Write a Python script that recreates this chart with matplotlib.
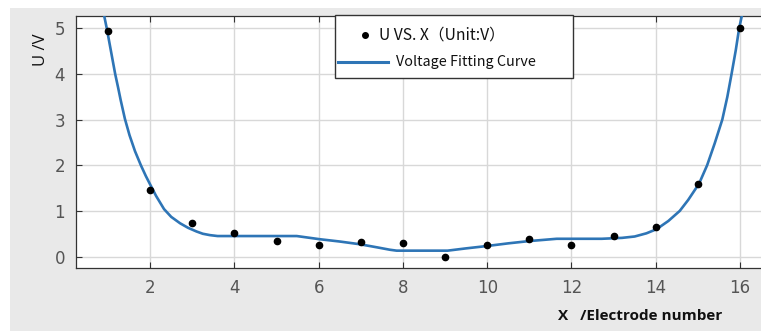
import matplotlib
matplotlib.use("Agg")
import matplotlib.pyplot as plt
from matplotlib.patches import Rectangle
from matplotlib.lines import Line2D

# measured electrode voltages
electrode = [1, 2, 3, 4, 5, 6, 7, 8, 9, 10, 11, 12, 13, 14, 15, 16]
voltage = [4.95, 1.46, 0.74, 0.51, 0.34, 0.26, 0.32, 0.29, 0.0, 0.26, 0.38, 0.25, 0.45, 0.64, 1.59, 5.01]

# fitting curve
curve_x = [0.91, 0.97, 1.07, 1.17, 1.24, 1.30, 1.40, 1.51, 1.64, 1.78, 1.90, 2.00, 2.14,
           2.33, 2.50, 2.71, 2.90, 3.10, 3.25, 3.42, 3.60, 4.00, 5.00, 5.48, 6.03, 6.50,
           6.98, 7.40, 7.69, 7.85, 9.06, 9.50, 9.98, 10.50, 11.00, 11.65, 12.72, 13.20,
           13.50, 13.78, 14.02, 14.30, 14.57, 14.77, 15.03, 15.22, 15.40, 15.58, 15.70,
           15.80, 15.90, 15.98, 16.05]
curve_y = [5.27, 5.00, 4.50, 4.00, 3.70, 3.43, 3.02, 2.66, 2.31, 2.00, 1.76, 1.58, 1.33,
           1.04, 0.87, 0.73, 0.63, 0.55, 0.50, 0.47, 0.45, 0.45, 0.45, 0.45, 0.38, 0.33,
           0.27, 0.20, 0.15, 0.13, 0.13, 0.18, 0.23, 0.29, 0.34, 0.39, 0.39, 0.41,
           0.44, 0.51, 0.60, 0.78, 1.00, 1.24, 1.60, 2.00, 2.48, 3.00, 3.50,
           4.00, 4.52, 5.00, 5.30]

xticks = [2, 4, 6, 8, 10, 12, 14, 16]
yticks = [0, 1, 2, 3, 4, 5]

W, H = 761, 331
fig = plt.figure(figsize=(W / 100, H / 100), dpi=100, facecolor="white")
fig.patches.append(Rectangle((10 / W, 0), 1 - 10 / W, 1 - 8 / H, transform=fig.transFigure,
                             facecolor="#e9e9e9", edgecolor="none", zorder=-10))

ax = fig.add_axes([76 / W, 63 / H, 696 / W, 252 / H])
ax.set_facecolor("white")
ax.set_xlim(0.24, 16.76)
ax.set_ylim(-0.25, 5.27)
ax.set_xticks(xticks)
ax.set_yticks(yticks)
ax.grid(True, color="#d8d8d8", linewidth=1.0)
ax.set_axisbelow(True)
ax.tick_params(direction="in", top=True, right=True, length=4, width=0.8,
               colors="#333333", labelcolor="#555555", labelsize=12, pad=8)
for s in ax.spines.values():
    s.set_color("#333333")
    s.set_linewidth(0.9)

ax.plot(curve_x, curve_y, color="#2e75b6", linewidth=1.9, zorder=3, clip_on=True,
        solid_joinstyle="round")
ax.plot(electrode, voltage, linestyle="none", marker="o", markersize=4.5,
        color="black", zorder=4)

fig.text(41 / W, 1 - 50 / H, "U /V", rotation=90, ha="center", va="center",
         fontsize=12, color="#111111", family=["Open Sans", "DejaVu Sans"])
fig.text(640 / W, 1 - 316 / H, "X   /Electrode number", ha="center", va="center",
         fontsize=11, fontweight="bold", color="#111111", family=["Open Sans", "DejaVu Sans"])

# legend box
fig.patches.append(Rectangle((335 / W, 1 - 78 / H), 238 / W, 63 / H, transform=fig.transFigure,
                             facecolor="white", edgecolor="#333333", linewidth=1.0, zorder=5))
fig.lines.append(Line2D([365 / W], [1 - 35 / H], transform=fig.transFigure, marker="o",
                        markersize=4, color="black", linestyle="none", zorder=6))
fig.lines.append(Line2D([338 / W, 388 / W], [1 - 62 / H, 1 - 62 / H], transform=fig.transFigure,
                        color="#2e75b6", linewidth=2.2, zorder=6))
fig.text(379 / W, 1 - 35 / H, "U VS. X（Unit:V）", ha="left", va="center", fontsize=11.3,
         color="#111111", family=["Noto Sans CJK SC", "DejaVu Sans"], zorder=7)
fig.text(396 / W, 1 - 62 / H, "Voltage Fitting Curve", ha="left", va="center", fontsize=10.3,
         color="#111111", family=["Noto Sans CJK SC", "DejaVu Sans"], zorder=7)

fig.savefig("out.png", dpi=100, facecolor="white")
